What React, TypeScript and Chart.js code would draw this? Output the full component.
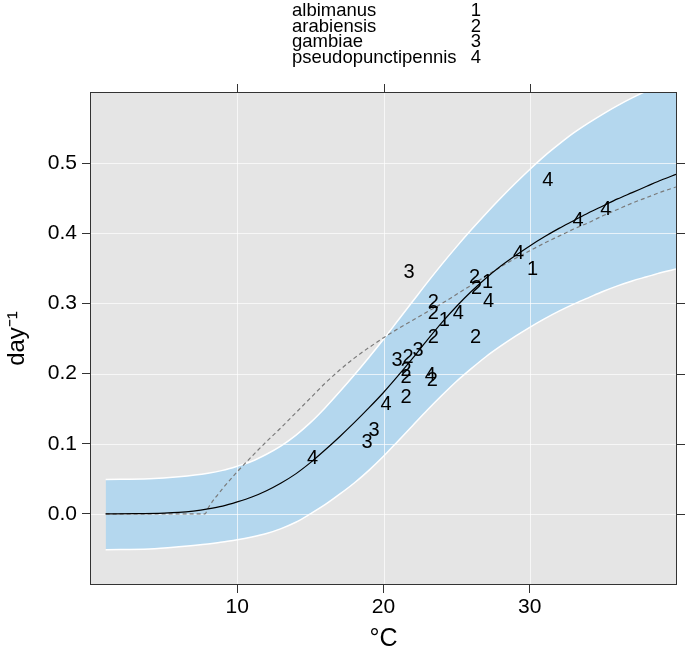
import React, { useEffect, useRef } from "react";
import { Chart, registerables } from "chart.js";
Chart.register(...registerables);

const FONT = "'Liberation Sans', Arial, Helvetica, sans-serif";

// axis ticks
const xTicks = [10, 20, 30];
const yTicks = [0, 0.1, 0.2, 0.3, 0.4, 0.5];

// legend
const speciesNames = ["albimanus", "arabiensis", "gambiae", "pseudopunctipennis"];
const speciesCodes = ["1", "2", "3", "4"];

// observations (temperature °C, rate day^-1)
const albimanusT = [24.16, 27.11, 30.2];
const albimanusRate = [0.277, 0.331, 0.35];
const arabiensisT = [26.22, 26.36, 23.4, 23.4, 23.4, 26.29, 21.68, 21.55, 21.55, 23.33, 21.55];
const arabiensisRate = [0.339, 0.323, 0.303, 0.287, 0.253, 0.253, 0.224, 0.206, 0.196, 0.191, 0.167];
const gambiaeT = [21.75, 22.37, 20.93, 19.35, 18.87];
const gambiaeRate = [0.346, 0.234, 0.22, 0.12, 0.103];
const pseudoT = [15.15, 20.17, 23.2, 25.12, 27.18, 29.24, 31.24, 33.3, 35.2];
const pseudoRate = [0.08, 0.157, 0.199, 0.287, 0.304, 0.373, 0.477, 0.419, 0.436];

// fitted curve (solid)
const fitT = [1, 3, 5, 6, 7, 8, 9, 10, 11, 12, 13, 14, 15, 16, 17, 18, 19, 20, 21, 22, 23, 24, 25, 26, 27, 28, 29, 30, 31, 32, 33, 34, 35, 36, 37, 38, 39, 40];
const fitRate = [0, 0.0002, 0.001, 0.002, 0.004, 0.007, 0.011, 0.017, 0.024, 0.033, 0.044, 0.057, 0.073, 0.091, 0.11, 0.13, 0.151, 0.173, 0.197, 0.222, 0.248, 0.273, 0.296, 0.317, 0.336, 0.353, 0.368, 0.382, 0.395, 0.407, 0.418, 0.429, 0.439, 0.449, 0.458, 0.467, 0.476, 0.484];

// alternative curve (dashed)
const altT = [1, 7.8, 8, 9, 10, 11, 12, 13, 14, 15, 16, 17, 18, 19, 20, 21, 22, 23, 24, 25, 26, 27, 28, 29, 30, 31, 32, 33, 34, 35, 36, 37, 38, 39, 40];
const altRate = [0, 0, 0.008, 0.036, 0.06, 0.082, 0.103, 0.123, 0.144, 0.165, 0.186, 0.205, 0.222, 0.237, 0.251, 0.264, 0.276, 0.288, 0.3, 0.313, 0.326, 0.339, 0.352, 0.364, 0.375, 0.386, 0.396, 0.406, 0.415, 0.425, 0.434, 0.443, 0.451, 0.459, 0.466];

// prediction band
const bandT = [1, 4, 6, 8, 9, 10, 11, 12, 13, 14, 15, 16, 17, 18, 19, 20, 21, 22, 23, 24, 25, 26, 27, 28, 29, 30, 31, 32, 33, 34, 35, 36, 37, 38, 39, 40];
const bandUpper = [0.049, 0.05, 0.053, 0.058, 0.062, 0.068, 0.075, 0.085, 0.097, 0.112, 0.13, 0.151, 0.174, 0.198, 0.223, 0.249, 0.276, 0.303, 0.33, 0.356, 0.381, 0.405, 0.428, 0.45, 0.471, 0.491, 0.51, 0.527, 0.543, 0.557, 0.57, 0.582, 0.593, 0.603, 0.612, 0.62];
const bandLower = [-0.051, -0.05, -0.047, -0.043, -0.04, -0.037, -0.033, -0.028, -0.021, -0.012, 0.0, 0.013, 0.028, 0.044, 0.062, 0.082, 0.104, 0.126, 0.148, 0.169, 0.189, 0.207, 0.224, 0.239, 0.253, 0.266, 0.278, 0.289, 0.299, 0.308, 0.317, 0.325, 0.332, 0.338, 0.344, 0.349];

const pts = (xs: number[], ys: number[]) => xs.map((x, i) => ({ x, y: ys[i] }));

const chartPlugin = {
  id: "latticeLook",
  beforeDraw(chart: any) {
    const { ctx, chartArea: a } = chart;
    ctx.save();
    ctx.fillStyle = "#ffffff";
    ctx.fillRect(0, 0, chart.width, chart.height);
    ctx.fillStyle = "#e5e5e5";
    ctx.fillRect(a.left, a.top, a.right - a.left, a.bottom - a.top);
    ctx.restore();
  },
  afterDatasetDraw(chart: any, args: any) {
    const ds = chart.data.datasets[args.index];
    if (ds.role !== "upper") return;
    const { ctx, chartArea: a, scales } = chart;
    ctx.save();
    ctx.strokeStyle = "rgba(255,255,255,0.7)";
    ctx.lineWidth = 1;
    ctx.beginPath();
    xTicks.forEach((v) => {
      const px = Math.round(scales.x.getPixelForValue(v)) + 0.5;
      ctx.moveTo(px, a.top);
      ctx.lineTo(px, a.bottom);
    });
    yTicks.forEach((v) => {
      const py = Math.round(scales.y.getPixelForValue(v)) + 0.5;
      ctx.moveTo(a.left, py);
      ctx.lineTo(a.right, py);
    });
    ctx.stroke();
    ctx.restore();
  },
  afterDatasetsDraw(chart: any) {
    const { ctx, chartArea: a } = chart;
    ctx.save();
    ctx.beginPath();
    ctx.rect(a.left, a.top, a.right - a.left, a.bottom - a.top);
    ctx.clip();
    ctx.font = `20px ${FONT}`;
    ctx.textAlign = "center";
    ctx.textBaseline = "middle";
    ctx.fillStyle = "#000";
    chart.data.datasets.forEach((ds: any, i: number) => {
      if (!ds.glyph) return;
      const meta = chart.getDatasetMeta(i);
      meta.data.forEach((el: any) => {
        ctx.fillText(ds.glyph, el.x, el.y + 1);
      });
    });
    ctx.restore();
  },
  afterDraw(chart: any) {
    const { ctx, chartArea: a, scales } = chart;
    ctx.save();
    ctx.strokeStyle = "#333";
    ctx.lineWidth = 1;
    ctx.strokeRect(Math.round(a.left) - 0.5, Math.round(a.top) - 0.5, Math.round(a.right - a.left) + 1, Math.round(a.bottom - a.top) + 1);
    ctx.beginPath();
    xTicks.forEach((v) => {
      const px = Math.round(scales.x.getPixelForValue(v)) + 0.5;
      ctx.moveTo(px, a.top - 9);
      ctx.lineTo(px, a.top);
    });
    yTicks.forEach((v) => {
      const py = Math.round(scales.y.getPixelForValue(v)) + 0.5;
      ctx.moveTo(a.right, py);
      ctx.lineTo(a.right + 9, py);
    });
    ctx.stroke();
    // key
    ctx.font = `18.5px ${FONT}`;
    ctx.fillStyle = "#000";
    ctx.textBaseline = "alphabetic";
    speciesNames.forEach((name, i) => {
      const y = 16 + i * 15.7;
      ctx.textAlign = "left";
      ctx.fillText(name, 292, y);
      ctx.textAlign = "right";
      ctx.fillText(speciesCodes[i], 481, y);
    });
    ctx.restore();
  },
};

export default function App() {
  const ref = useRef<HTMLCanvasElement>(null);
  useEffect(() => {
    if (!ref.current) return;
    const glyphSet = (t: number[], r: number[], g: string) => ({
      type: "scatter",
      data: pts(t, r),
      glyph: g,
      pointRadius: 0,
      pointHoverRadius: 0,
      showLine: false,
      order: 1,
    });
    const chart = new Chart(ref.current, {
      type: "line",
      data: {
        datasets: [
          {
            role: "lower",
            data: pts(bandT, bandLower),
            borderColor: "#ffffff",
            borderWidth: 1.5,
            backgroundColor: "#b4d7ee",
            fill: 1,
            pointRadius: 0,
            cubicInterpolationMode: "monotone",
            order: 6,
          },
          {
            role: "upper",
            data: pts(bandT, bandUpper),
            borderColor: "#ffffff",
            borderWidth: 1.5,
            fill: false,
            pointRadius: 0,
            cubicInterpolationMode: "monotone",
            order: 5,
          },
          {
            data: pts(altT, altRate),
            borderColor: "#7a7a7a",
            borderWidth: 1.2,
            borderDash: [4, 3],
            fill: false,
            pointRadius: 0,
            cubicInterpolationMode: "monotone",
            order: 3,
          },
          {
            data: pts(fitT, fitRate),
            borderColor: "#000000",
            borderWidth: 1.2,
            fill: false,
            pointRadius: 0,
            cubicInterpolationMode: "monotone",
            order: 2,
          },
          glyphSet(albimanusT, albimanusRate, speciesCodes[0]),
          glyphSet(arabiensisT, arabiensisRate, speciesCodes[1]),
          glyphSet(gambiaeT, gambiaeRate, speciesCodes[2]),
          glyphSet(pseudoT, pseudoRate, speciesCodes[3]),
        ] as any,
      },
      options: {
        animation: false,
        responsive: false,
        devicePixelRatio: 1,
        events: [],
        layout: { padding: { top: 93, right: 9, left: 0, bottom: 0 } },
        plugins: { legend: { display: false }, tooltip: { enabled: false } },
        scales: {
          x: {
            type: "linear",
            min: 0,
            max: 40,
            afterBuildTicks: (s: any) => {
              s.ticks = xTicks.map((v) => ({ value: v }));
            },
            afterFit: (s: any) => {
              s.height = 73;
            },
            ticks: {
              autoSkip: false,
              maxRotation: 0,
              color: "#000",
              padding: 2,
              font: { family: FONT, size: 21 },
              callback: (v: any) => String(v),
            },
            grid: { drawOnChartArea: false, drawTicks: true, tickLength: 9, tickColor: "#333", tickWidth: 1 },
            border: { display: false },
            title: {
              display: true,
              text: "°C",
              color: "#000",
              font: { family: FONT, size: 25 },
              padding: { top: 0, bottom: 3 },
            },
          },
          y: {
            type: "linear",
            min: -0.1,
            max: 0.6,
            afterBuildTicks: (s: any) => {
              s.ticks = yTicks.map((v) => ({ value: v }));
            },
            afterFit: (s: any) => {
              s.width = 91;
            },
            ticks: {
              autoSkip: false,
              color: "#000",
              padding: 5,
              font: { family: FONT, size: 21 },
              callback: (v: any) => Number(v).toFixed(1),
            },
            grid: { drawOnChartArea: false, drawTicks: true, tickLength: 9, tickColor: "#333", tickWidth: 1 },
            border: { display: false },
            title: {
              display: true,
              text: "day⁻¹",
              color: "#000",
              font: { family: FONT, size: 24 },
              padding: { top: 3, bottom: 0 },
            },
          },
        },
      },
      plugins: [chartPlugin as any],
    } as any);
    return () => chart.destroy();
  }, []);
  return (
    <div style={{ position: "absolute", left: 0, top: 0, width: 685, height: 657 }}>
      <canvas ref={ref} width={685} height={657} style={{ width: 685, height: 657, display: "block" }} />
    </div>
  );
}
